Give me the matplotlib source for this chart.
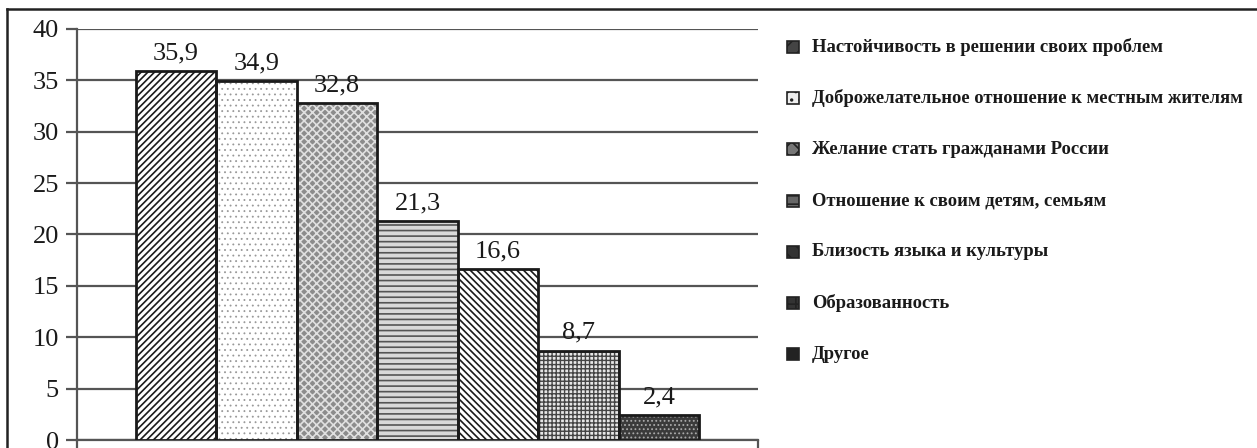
import matplotlib.pyplot as plt
from matplotlib.patches import Rectangle
from matplotlib.lines import Line2D

# Data
categories = ['Настойчивость в решении своих проблем',
              'Доброжелательное отношение к местным жителям',
              'Желание стать гражданами России',
              'Отношение к своим детям, семьям',
              'Близость языка и культуры',
              'Образованность',
              'Другое']
values = [35.9, 34.9, 32.8, 21.3, 16.6, 8.7, 2.4]
value_labels = ['35,9', '34,9', '32,8', '21,3', '16,6', '8,7', '2,4']

# Styles (fill, hatch, hatch colour, hatch line width)
faces = ['white', 'white', '#8c8c8c', '#d9d9d9', 'white', '#e6e6e6', '#3a3a3a']
hatches = ['/////', '...', 'xxxx', '---', '\\\\\\\\\\', '++++', '....']
hatch_cols = ['#1a1a1a', '#999999', '#e0e0e0', '#555555', '#1a1a1a', '#444444', '#aaaaaa']
hatch_lw = [1.2, 0.6, 1.2, 1.2, 1.2, 1.0, 0.8]
legend_faces = ['#444444', '#eeeeee', '#777777', '#666666', '#333333', '#333333', '#222222']

plt.rcParams['font.family'] = ['Liberation Serif', 'DejaVu Serif']
plt.rcParams['hatch.linewidth'] = 1.2

W, H = 1257, 448
fig = plt.figure(figsize=(W / 100, H / 100), dpi=100)
ax = fig.add_axes([77 / W, (H - 440) / H, (758 - 77) / W, (440 - 29) / H])

gap = 0.73
x = list(range(len(values)))
for i, v in enumerate(values):
    bars = ax.bar(x[i], v, width=1.0, color=faces[i], hatch=hatches[i],
                  edgecolor=hatch_cols[i], linewidth=0, zorder=3)
    for b in bars:
        if hasattr(b, 'set_hatch_linewidth'):
            b.set_hatch_linewidth(hatch_lw[i])
    ax.bar(x[i], v, width=1.0, fill=False, edgecolor='#1a1a1a',
           linewidth=2, zorder=4)
    ax.annotate(value_labels[i], (x[i], v), xytext=(0, 5),
                textcoords='offset points', ha='center', va='bottom',
                fontsize=19, color='#1a1a1a')

ax.set_xlim(-0.5 - gap, len(values) - 0.5 + gap)
ax.set_ylim(0, 40)
ax.set_yticks(range(0, 41, 5))
ax.yaxis.grid(True, color='#555555', linewidth=1.6, zorder=0)
ax.set_axisbelow(True)
ax.tick_params(axis='y', length=8, width=1.6, color='#555555',
               labelsize=19, labelcolor='#1a1a1a', pad=5)
ax.set_xticks([-0.5 - gap, len(values) - 0.5 + gap])
ax.set_xticklabels([])
ax.tick_params(axis='x', length=7, width=1.6, color='#555555')
for s in ['top', 'right']:
    ax.spines[s].set_visible(False)
for s in ['left', 'bottom']:
    ax.spines[s].set_color('#555555')
    ax.spines[s].set_linewidth(1.6)

# Legend drawn manually
for i, name in enumerate(categories):
    yc = 47 + i * 51.2
    fig.patches.append(Rectangle((787 / W, (H - yc - 6) / H), 12 / W, 12 / H,
                                 transform=fig.transFigure,
                                 facecolor=legend_faces[i], edgecolor='#222222',
                                 linewidth=1.2, hatch=hatches[i][:2]))
    fig.text(812 / W, (H - yc) / H, name, ha='left', va='center',
             fontsize=13.4, fontweight='bold', color='#1a1a1a')

# Outer frame
fig.add_artist(Line2D([7 / W, 7 / W], [0, (H - 9) / H], transform=fig.transFigure,
                      color='#222222', linewidth=1.8))
fig.add_artist(Line2D([7 / W, 1], [(H - 9) / H, (H - 9) / H], transform=fig.transFigure,
                      color='#222222', linewidth=1.8))

fig.savefig('out.png', dpi=100)
